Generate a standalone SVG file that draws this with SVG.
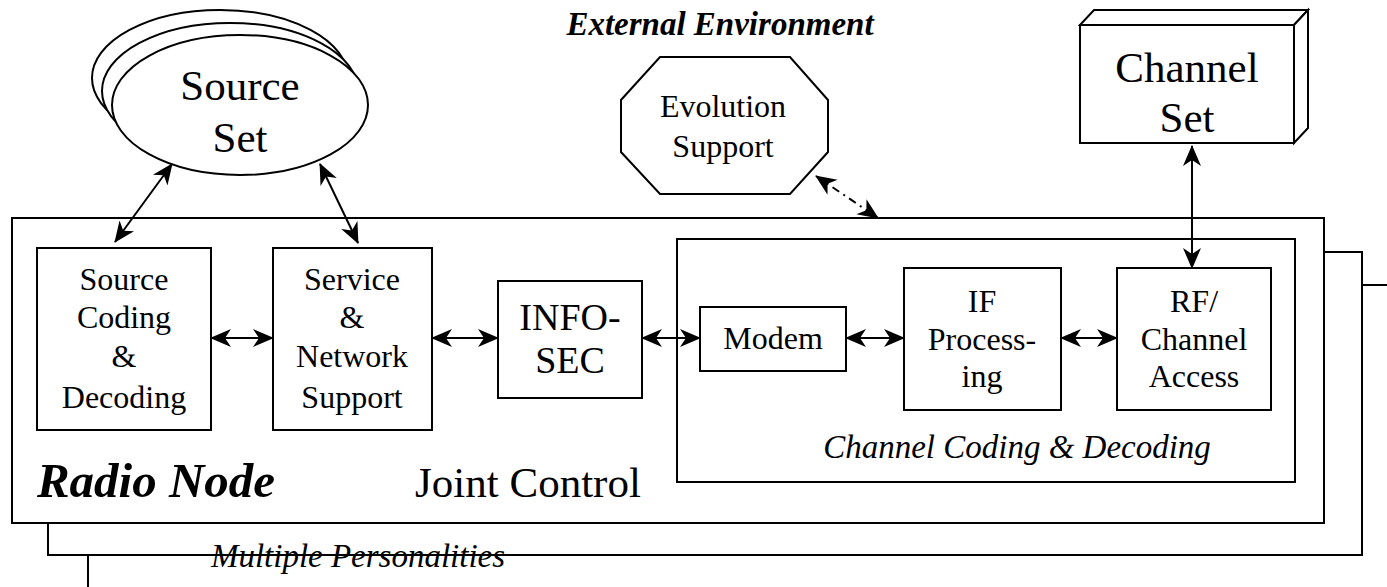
<svg xmlns="http://www.w3.org/2000/svg" width="1387" height="587" viewBox="0 0 1387 587" font-family="Liberation Serif, serif">
<style>
.box{fill:#fff;stroke:#000;stroke-width:2}
.ln{fill:none;stroke:#000;stroke-width:2}
.t{fill:#000;text-anchor:middle;font-family:"Liberation Serif",serif}
.b{font-size:32px}
.it{font-style:italic}
.bi{font-style:italic;font-weight:bold}
</style>
<defs>
<marker id="ah" markerUnits="userSpaceOnUse" markerWidth="22" markerHeight="20" refX="20" refY="10" orient="auto-start-reverse" viewBox="0 0 22 20">
<path d="M0,1 L21,10 L0,19 L6,10 z" fill="#000"/>
</marker>
</defs>
<rect width="1387" height="587" fill="#fff"/>
<g id="personalities">
<rect class="box" x="88" y="285" width="1400" height="400"/>
<rect class="box" x="48" y="252" width="1314" height="303"/>
</g>
<g id="radio-node">
<rect class="box" x="12" y="218" width="1312" height="305"/>
<text class="t bi" x="156" y="497" font-size="49">Radio Node</text>
<text class="t" x="528" y="497" font-size="43">Joint Control</text>
</g>
<text class="t it" x="358" y="567" font-size="33">Multiple Personalities</text>
<g id="channel-coding">
<rect class="box" x="677" y="239" width="618" height="243"/>
<text class="t it" x="1017" y="458" font-size="33">Channel Coding &amp; Decoding</text>
</g>
<g id="external-env">
<text class="t bi" x="720" y="35" font-size="33">External Environment</text>
</g>
<g id="source-set">
<ellipse class="box" cx="220" cy="78" rx="128" ry="68"/>
<ellipse class="box" cx="230" cy="91" rx="128" ry="68"/>
<ellipse class="box" cx="240" cy="105" rx="128" ry="70"/>
<text class="t" x="240" y="100" font-size="43">Source</text>
<text class="t" x="240" y="152" font-size="43">Set</text>
</g>
<g id="evolution-support">
<polygon class="box" points="660,57 790,57 828,100 828,152 790,194 660,194 621,152 621,100"/>
<text class="t b" x="723" y="117">Evolution</text>
<text class="t b" x="723" y="157">Support</text>
</g>
<g id="channel-set">
<polygon class="box" points="1080,25 1094,10 1308,10 1294,25"/>
<polygon class="box" points="1294,25 1308,10 1308,128 1294,143"/>
<rect class="box" x="1080" y="25" width="214" height="118"/>
<text class="t" x="1187" y="82" font-size="43">Channel</text>
<text class="t" x="1187" y="132" font-size="43">Set</text>
</g>
<g id="source-coding">
<rect class="box" x="37" y="248" width="174" height="182"/>
<text class="t b" x="124" y="290">Source</text>
<text class="t b" x="124" y="328">Coding</text>
<text class="t b" x="124" y="367">&amp;</text>
<text class="t b" x="124" y="408">Decoding</text>
</g>
<g id="service-network">
<rect class="box" x="273" y="248" width="159" height="182"/>
<text class="t b" x="352" y="290">Service</text>
<text class="t b" x="352" y="328">&amp;</text>
<text class="t b" x="352" y="367">Network</text>
<text class="t b" x="352" y="408">Support</text>
</g>
<g id="infosec">
<rect class="box" x="498" y="281" width="144" height="117"/>
<text class="t" x="570" y="330" font-size="38">INFO-</text>
<text class="t" x="570" y="373" font-size="38">SEC</text>
</g>
<g id="modem">
<rect class="box" x="700" y="307" width="146" height="64"/>
<text class="t b" x="773" y="349">Modem</text>
</g>
<g id="if-processing">
<rect class="box" x="904" y="268" width="157" height="142"/>
<text class="t b" x="982" y="312">IF</text>
<text class="t b" x="982" y="350">Process-</text>
<text class="t b" x="982" y="387">ing</text>
</g>
<g id="rf-channel">
<rect class="box" x="1117" y="268" width="154" height="142"/>
<text class="t b" x="1194" y="312">RF/</text>
<text class="t b" x="1194" y="350">Channel</text>
<text class="t b" x="1194" y="387">Access</text>
</g>
<g id="connectors">
<line class="ln" x1="172" y1="164" x2="115" y2="242" marker-start="url(#ah)" marker-end="url(#ah)"/>
<line class="ln" x1="320" y1="164" x2="358" y2="243" marker-start="url(#ah)" marker-end="url(#ah)"/>
<line class="ln" x1="211" y1="338" x2="273" y2="338" marker-start="url(#ah)" marker-end="url(#ah)"/>
<line class="ln" x1="432" y1="338" x2="498" y2="338" marker-start="url(#ah)" marker-end="url(#ah)"/>
<line class="ln" x1="642" y1="338" x2="700" y2="338" marker-start="url(#ah)" marker-end="url(#ah)"/>
<line class="ln" x1="846" y1="338" x2="904" y2="338" marker-start="url(#ah)" marker-end="url(#ah)"/>
<line class="ln" x1="1061" y1="338" x2="1117" y2="338" marker-start="url(#ah)" marker-end="url(#ah)"/>
<line class="ln" x1="1192" y1="146" x2="1192" y2="268" marker-start="url(#ah)" marker-end="url(#ah)"/>
<line class="ln" x1="816" y1="176" x2="878" y2="218" stroke-dasharray="8,5,2,5" marker-start="url(#ah)" marker-end="url(#ah)"/>
</g>
</svg>
